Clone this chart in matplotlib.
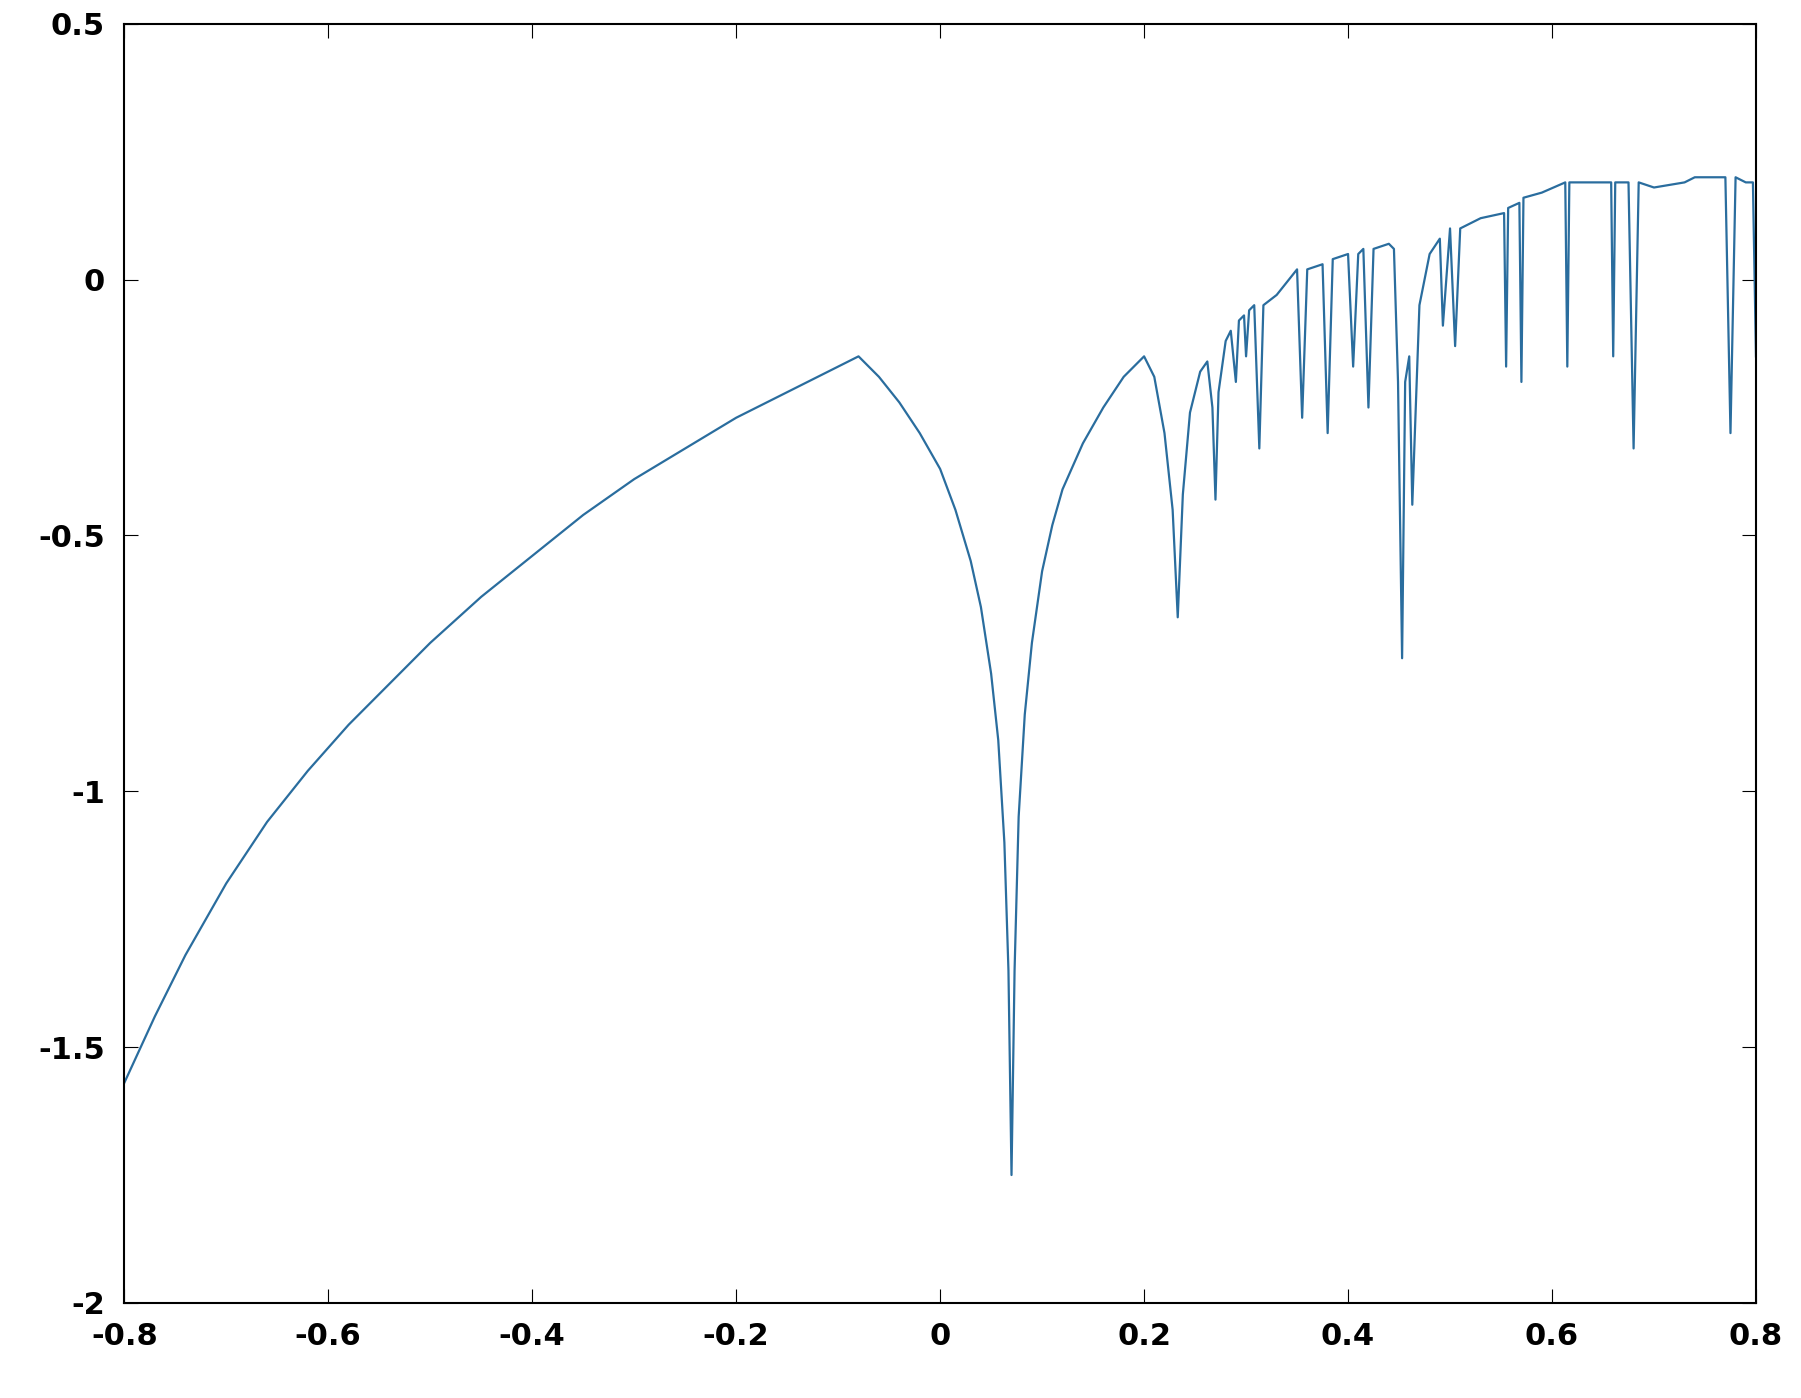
import matplotlib.pyplot as plt

# curve: smooth branches, then narrow downward spikes
x_vals = [-0.8, -0.77, -0.74, -0.7, -0.66, -0.62, -0.58, -0.54, -0.5, -0.45, -0.4, -0.35, -0.3,
          -0.25, -0.2, -0.14, -0.08,
          -0.06, -0.04, -0.02, 0.0, 0.015, 0.03, 0.04, 0.05, 0.057, 0.063, 0.067, 0.07, 0.073,
          0.077, 0.083, 0.09, 0.1, 0.11, 0.12, 0.14, 0.16, 0.18, 0.2, 0.21, 0.22, 0.228, 0.233,
          0.238, 0.245, 0.255, 0.262,
          0.267, 0.27, 0.273, 0.28, 0.285, 0.29, 0.293, 0.298, 0.3, 0.303, 0.308, 0.313, 0.317,
          0.33, 0.35, 0.355, 0.36, 0.375, 0.38, 0.385, 0.4, 0.405, 0.41, 0.415, 0.42, 0.425,
          0.44, 0.445, 0.449, 0.453, 0.456, 0.46, 0.463, 0.47, 0.48, 0.49, 0.493, 0.5, 0.505, 0.51,
          0.53, 0.553, 0.555, 0.557, 0.568, 0.57, 0.572, 0.59, 0.613, 0.615, 0.617, 0.64, 0.658,
          0.66, 0.662, 0.675, 0.68, 0.685, 0.7, 0.73, 0.74, 0.77, 0.775, 0.78, 0.79, 0.797, 0.8]
y_vals = [-1.57, -1.44, -1.32, -1.18, -1.06, -0.96, -0.87, -0.79, -0.71, -0.62, -0.54, -0.46, -0.39,
          -0.33, -0.27, -0.21, -0.15,
          -0.19, -0.24, -0.3, -0.37, -0.45, -0.55, -0.64, -0.77, -0.9, -1.1, -1.35, -1.75, -1.35,
          -1.05, -0.85, -0.71, -0.57, -0.48, -0.41, -0.32, -0.25, -0.19, -0.15, -0.19, -0.3, -0.45,
          -0.66, -0.42, -0.26, -0.18, -0.16,
          -0.25, -0.43, -0.22, -0.12, -0.1, -0.2, -0.08, -0.07, -0.15, -0.06, -0.05, -0.33, -0.05,
          -0.03, 0.02, -0.27, 0.02, 0.03, -0.3, 0.04, 0.05, -0.17, 0.05, 0.06, -0.25, 0.06,
          0.07, 0.06, -0.2, -0.74, -0.2, -0.15, -0.44, -0.05, 0.05, 0.08, -0.09, 0.1, -0.13, 0.1,
          0.12, 0.13, -0.17, 0.14, 0.15, -0.2, 0.16, 0.17, 0.19, -0.17, 0.19, 0.19, 0.19,
          -0.15, 0.19, 0.19, -0.33, 0.19, 0.18, 0.19, 0.2, 0.2, -0.3, 0.2, 0.19, 0.19, -0.15]

x_ticks = [-0.8, -0.6, -0.4, -0.2, 0, 0.2, 0.4, 0.6, 0.8]
y_ticks = [-2, -1.5, -1, -0.5, 0, 0.5]

fig = plt.figure(figsize=(18.01, 13.98), dpi=100)
ax = fig.add_axes([0.069, 0.068, 0.906, 0.915])
ax.plot(x_vals, y_vals, color='#2a6d9e', linewidth=1.6)
ax.set_xlim(-0.8, 0.8)
ax.set_ylim(-2, 0.5)
ax.set_xticks(x_ticks)
ax.set_xticklabels(['-0.8', '-0.6', '-0.4', '-0.2', '0', '0.2', '0.4', '0.6', '0.8'])
ax.set_yticks(y_ticks)
ax.set_yticklabels(['-2', '-1.5', '-1', '-0.5', '0', '0.5'])
ax.tick_params(direction='in', length=10, labelsize=22, top=True, right=True, pad=14)
for lab in ax.get_xticklabels() + ax.get_yticklabels():
    lab.set_fontweight('bold')
for s in ax.spines.values():
    s.set_linewidth(1.5)

plt.savefig('out.png')
